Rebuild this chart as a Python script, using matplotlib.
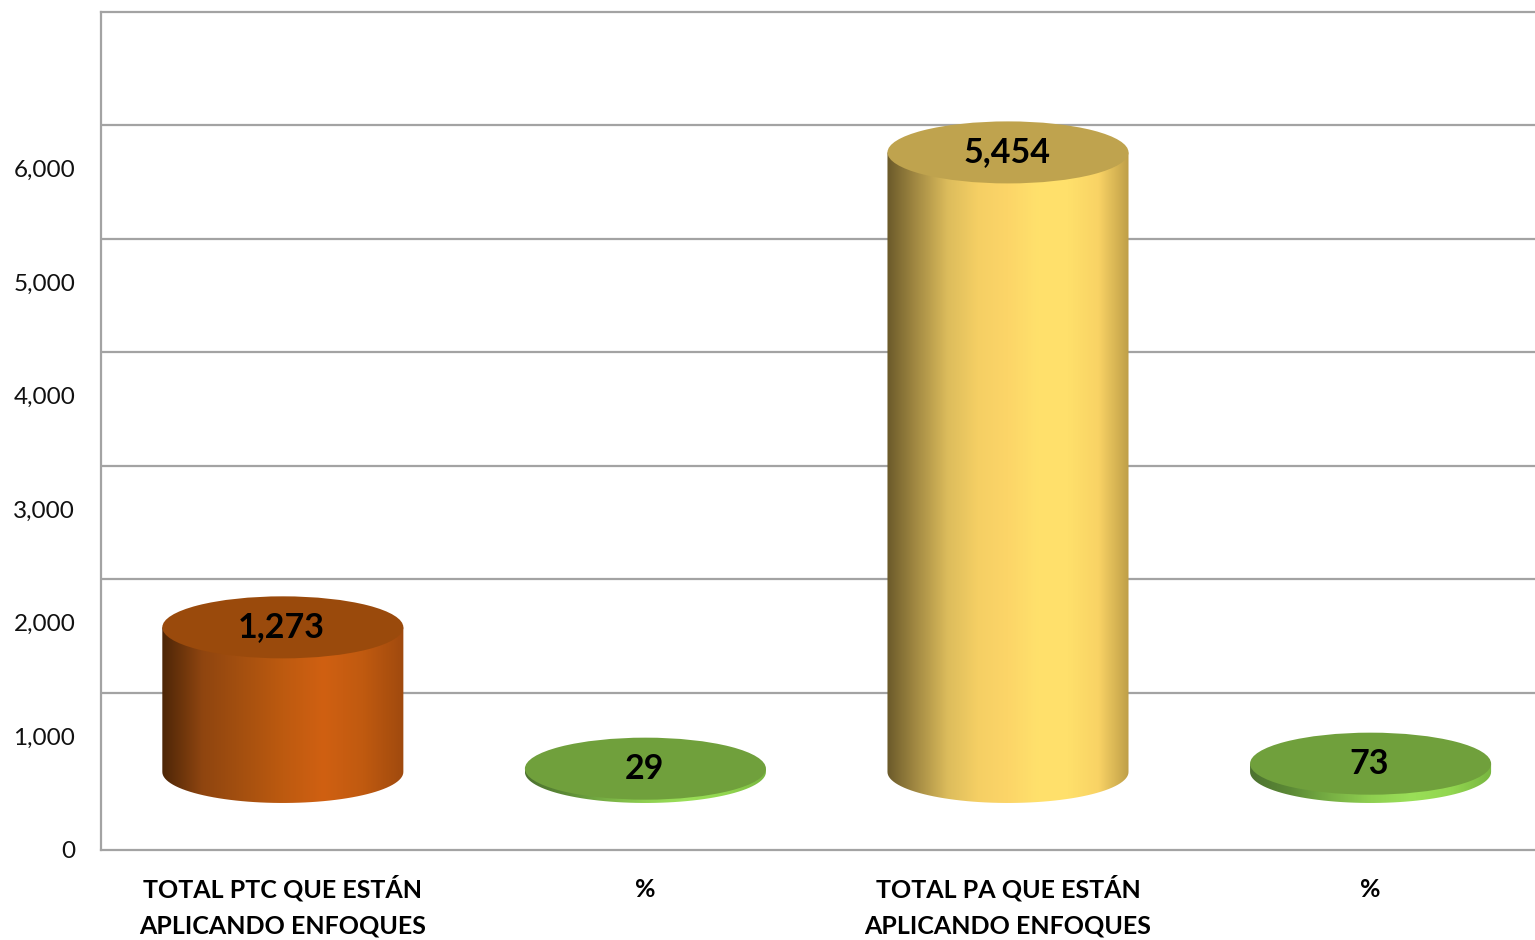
import numpy as np
import matplotlib
matplotlib.use('Agg')
import matplotlib.pyplot as plt
from matplotlib.colors import LinearSegmentedColormap
from matplotlib.patches import Ellipse, PathPatch
from matplotlib.path import Path

categories = ['TOTAL PTC QUE ESTÁN\nAPLICANDO ENFOQUES', '%',
              'TOTAL PA QUE ESTÁN\nAPLICANDO ENFOQUES', '%']
values = [1273, 29, 5454, 73]
value_labels = ['1,273', '29', '5,454', '73']
y_ticks = [0, 1000, 2000, 3000, 4000, 5000, 6000]
y_tick_labels = ['0', '1,000', '2,000', '3,000', '4,000', '5,000', '6,000']
grid_levels = [1000, 2000, 3000, 4000, 5000, 6000, 7000]

# the fake 3d: back wall and bar floor sit higher than the tick labels say
wall_offset = 383
bar_offset = 687
half_w = 0.3324
half_h = 273

orange = ['#4d2607', '#8f4510', '#a5500f', '#bd5a10', '#d06012', '#c05a10', '#a04a0e']
yellow = ['#6b5a2a', '#a58c44', '#dcbc5c', '#f5cf64', '#fcd568', '#ffe16c', '#ffe06b', '#f9d365', '#bf9f48']
green = ['#4d7230', '#5c8a36', '#78b044', '#8fcf50', '#9adf58', '#92d650', '#78b640']
side_colors = [orange, green, yellow, green]
top_colors = ['#9a4a0c', '#70a03c', '#bfa34e', '#70a03c']
grid_color = '#a3a3a3'

plt.rcParams['font.family'] = ['Lato', 'DejaVu Sans']

fig = plt.figure(figsize=(15.35, 9.4), dpi=100)
ax = fig.add_axes([101 / 1535, (940 - 850) / 940, (1535 - 101) / 1535, (850 - 12) / 940])

ax.hlines([g + wall_offset for g in grid_levels[:-1]], -0.5, 3.455,
          color=grid_color, lw=1.6, zorder=1)

for i, v in enumerate(values):
    top = bar_offset + v
    # body = straight sides plus the lower half of the base ellipse
    t = np.linspace(np.pi, 2 * np.pi, 60)
    xs = i + half_w * np.cos(t)
    ys = bar_offset + half_h * np.sin(t)
    verts = [(i - half_w, top)] + list(zip(xs, ys)) + [(i + half_w, top), (i - half_w, top)]
    codes = [Path.MOVETO] + [Path.LINETO] * (len(verts) - 2) + [Path.CLOSEPOLY]
    body = PathPatch(Path(verts, codes), fc='none', ec='none', zorder=2)
    ax.add_patch(body)
    cmap = LinearSegmentedColormap.from_list('side', side_colors[i])
    im = ax.imshow(np.linspace(0, 1, 256).reshape(1, -1), cmap=cmap, aspect='auto',
                   extent=[i - half_w, i + half_w, bar_offset - half_h, top], zorder=3)
    im.set_clip_path(body)
    ax.add_patch(Ellipse((i, top), 2 * half_w, 2 * half_h, fc=top_colors[i], ec='none', zorder=4))
    ax.text(i - 0.003, top, value_labels[i], ha='center', va='center', fontsize=24.5,
            fontweight='bold', color='black', zorder=5)

ax.set_xlim(-0.5015, 3.4535)
ax.set_ylim(0, 7377)
ax.set_xticks(range(4))
ax.set_xticklabels(categories, fontsize=18, fontweight='bold', linespacing=1.66)
ax.set_yticks(y_ticks)
ax.set_yticklabels(y_tick_labels, fontsize=17.5, color='#111111', va='center_baseline')
ax.tick_params(axis='x', length=0)
ax.tick_params(axis='y', length=0, pad=18.5)
# baseline alignment goes by the last line, so two line labels need more pad
for tick, lab in zip(ax.xaxis.get_major_ticks(), categories):
    tick.set_pad(59.8 if '\n' in lab else 33.8)
    tick.label1.set_va('baseline')
for side in ['top', 'left', 'bottom']:
    ax.spines[side].set_color(grid_color)
    ax.spines[side].set_linewidth(1.6)
ax.spines['right'].set_visible(False)

fig.savefig('out.png', dpi=100)
